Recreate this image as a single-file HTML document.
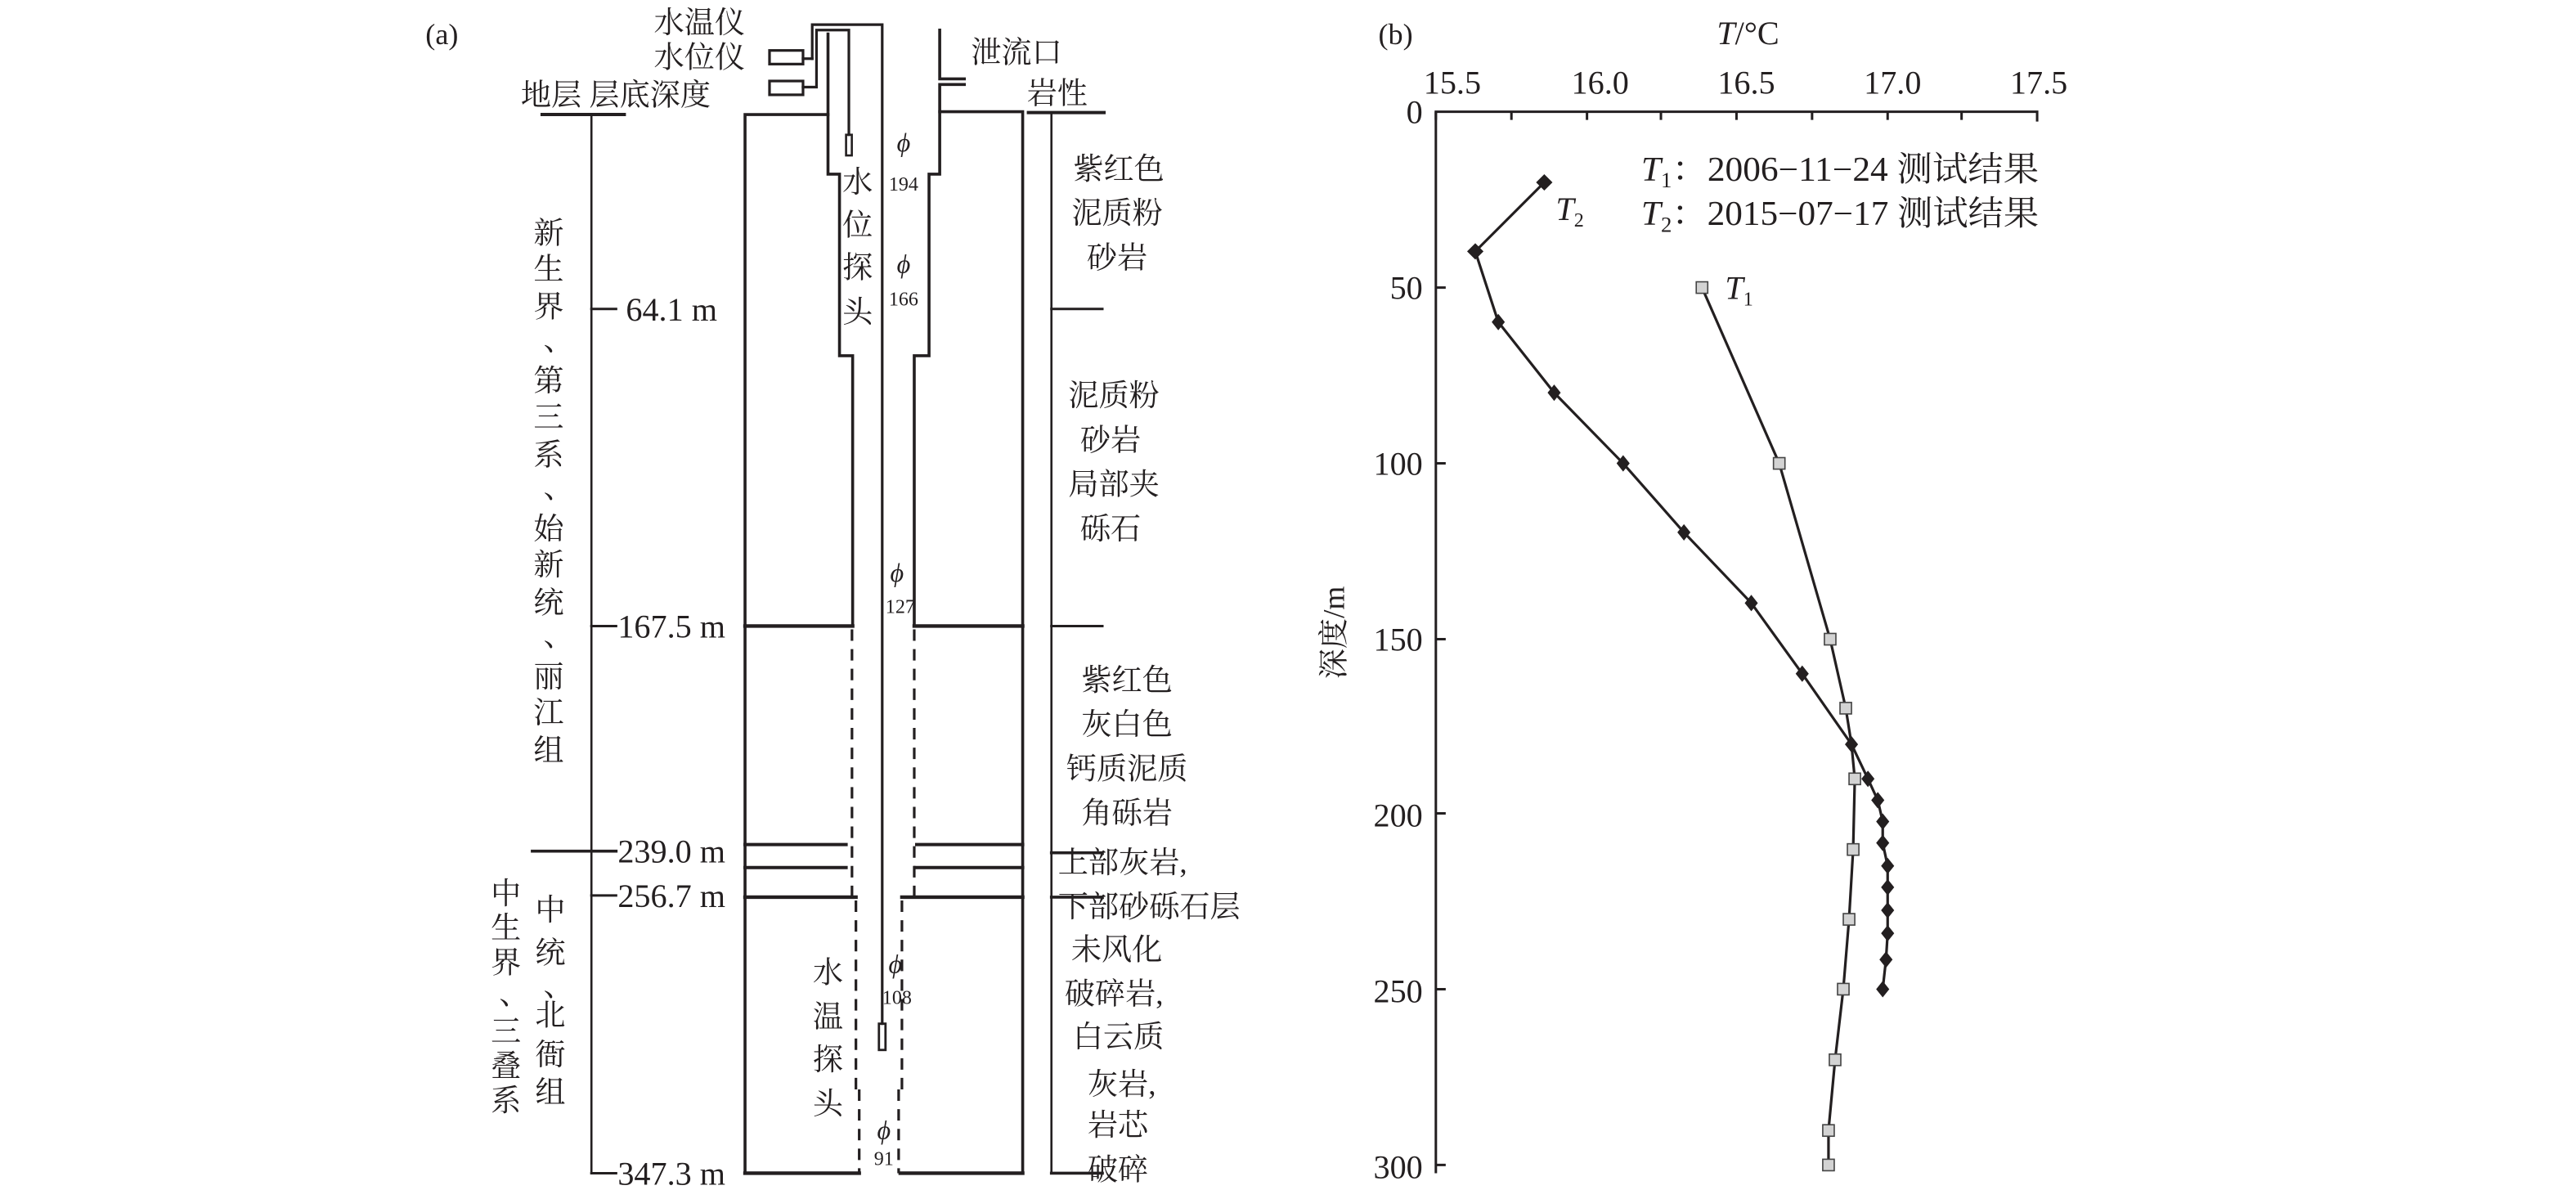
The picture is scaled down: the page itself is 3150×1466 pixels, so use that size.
<!DOCTYPE html>
<html><head><meta charset="utf-8"><style>
html,body{margin:0;padding:0;background:#fff;}
svg{display:block;}
text{font-family:"Liberation Serif","Noto Serif CJK SC",serif;fill:#231f20;}
.c{font-size:18.5px;}
.n{font-size:20px;}
</style></head><body>
<svg width="3150" height="1466" viewBox="0 0 1568 729.7" preserveAspectRatio="none" xmlns="http://www.w3.org/2000/svg">
<g stroke="#231f20" fill="none" stroke-linecap="square">
<line x1="330" y1="69.7" x2="380" y2="69.7" stroke-width="2"/>
<line x1="360" y1="69.7" x2="360" y2="714" stroke-width="1.3"/>
<line x1="360" y1="188" x2="375" y2="188" stroke-width="1.5"/>
<line x1="360" y1="381" x2="375" y2="381" stroke-width="1.5"/>
<line x1="324" y1="518" x2="375" y2="518" stroke-width="1.8"/>
<line x1="360" y1="545" x2="375" y2="545" stroke-width="1.5"/>
<line x1="360" y1="714" x2="375" y2="714" stroke-width="1.5"/>
<line x1="626" y1="68.5" x2="672" y2="68.5" stroke-width="2"/>
<line x1="640" y1="68.5" x2="640" y2="714" stroke-width="1.3"/>
<line x1="640" y1="188" x2="671" y2="188" stroke-width="1.5"/>
<line x1="640" y1="381" x2="671" y2="381" stroke-width="1.5"/>
<line x1="640" y1="519" x2="671" y2="519" stroke-width="1.8"/>
<line x1="640" y1="546" x2="671" y2="546" stroke-width="1.8"/>
<line x1="640" y1="714" x2="671" y2="714" stroke-width="1.8"/>
<polyline points="453.5,714 453.5,69.7 504,69.7" stroke-width="1.8"/>
<polyline points="504,20.7 504,106 511,106 511,216.5 519,216.5 519,381" stroke-width="1.8"/>
<polyline points="572,18.3 572,48 587,48" stroke-width="1.8"/>
<polyline points="587,51.4 572,51.4 572,106 565.5,106 565.5,216.5 556.5,216.5 556.5,381" stroke-width="1.8"/>
<polyline points="572,68 622.5,68 622.5,714" stroke-width="1.8"/>
<line x1="453.5" y1="381" x2="519" y2="381" stroke-width="2.2"/>
<line x1="556.5" y1="381" x2="622.5" y2="381" stroke-width="2.2"/>
<line x1="453.5" y1="514" x2="515" y2="514" stroke-width="2"/>
<line x1="558" y1="514" x2="622.5" y2="514" stroke-width="2"/>
<line x1="453.5" y1="528" x2="515" y2="528" stroke-width="2"/>
<line x1="557" y1="528" x2="622.5" y2="528" stroke-width="2"/>
<line x1="453.5" y1="546" x2="521" y2="546" stroke-width="2.2"/>
<line x1="549" y1="546" x2="622.5" y2="546" stroke-width="2.2"/>
<line x1="453.5" y1="714" x2="523" y2="714" stroke-width="2.2"/>
<line x1="548" y1="714" x2="622.5" y2="714" stroke-width="2.2"/>
<g stroke-dasharray="7,5" stroke-width="1.6" stroke-linecap="butt">
<line x1="518.6" y1="383" x2="518.6" y2="546"/>
<line x1="556.5" y1="383" x2="556.5" y2="546"/>
<line x1="521" y1="548" x2="521" y2="663"/>
<line x1="549" y1="548" x2="549" y2="663"/>
<line x1="523" y1="663" x2="523" y2="714"/>
<line x1="547" y1="663" x2="547" y2="714"/>
</g>
<polyline points="494.4,35.7 494.4,15 537,15 537,623" stroke-width="1.6"/>
<rect x="535" y="623" width="4" height="16" stroke-width="1.4"/>
<polyline points="488.8,53 497,53 497,18.3 516.7,18.3 516.7,82" stroke-width="1.6"/>
<rect x="515" y="82" width="3.5" height="12.6" stroke-width="1.3"/>
<rect x="468.4" y="30.7" width="20.4" height="8.3" stroke-width="1.6"/>
<rect x="468.4" y="49.3" width="20.4" height="8.4" stroke-width="1.6"/>
<line x1="488.8" y1="35.7" x2="494.4" y2="35.7" stroke-width="1.6"/>
</g>
<text x="259" y="27" class="n" style="font-size:18px">(a)</text>
<text x="398" y="20" class="c">水温仪</text>
<text x="398" y="41" class="c">水位仪</text>
<text x="317" y="64" class="c">地层 层底深度</text>
<text x="591" y="38" class="c">泄流口</text>
<text x="625" y="63" class="c">岩性</text>
<g class="n" style="font-size:20px">
<text x="381" y="195">64.1 m</text>
<text x="376" y="388">167.5 m</text>
<text x="376" y="525">239.0 m</text>
<text x="376" y="552">256.7 m</text>
<text x="376" y="721">347.3 m</text>
</g>
<g style="font-size:16px;font-style:italic" text-anchor="middle">
<text x="550" y="92">ϕ</text><text x="550" y="166">ϕ</text>
<text x="546" y="354">ϕ</text><text x="545" y="592">ϕ</text><text x="538" y="693">ϕ</text>
</g>
<g style="font-size:12px" text-anchor="middle">
<text x="550" y="116">194</text><text x="550" y="186">166</text>
<text x="548" y="373">127</text><text x="546" y="611">108</text><text x="538" y="709">91</text>
</g>
<g class="c" text-anchor="middle">
<text x="522" y="117">水</text><text x="522" y="143">位</text><text x="522" y="169">探</text><text x="522" y="196">头</text>
<text x="504" y="598">水</text><text x="504" y="625">温</text><text x="504" y="651">探</text><text x="504" y="678">头</text>
<text x="334" y="148">新</text><text x="334" y="170">生</text><text x="334" y="193">界</text><text x="340" y="213">、</text>
<text x="334" y="238">第</text><text x="334" y="260">三</text><text x="334" y="283">系</text><text x="340" y="303">、</text>
<text x="334" y="328">始</text><text x="334" y="350">新</text><text x="334" y="373">统</text><text x="340" y="393">、</text>
<text x="334" y="418">丽</text><text x="334" y="440">江</text><text x="334" y="463">组</text>
<text x="308" y="550">中</text><text x="308" y="571">生</text><text x="308" y="592">界</text><text x="313" y="611">、</text>
<text x="308" y="634">三</text><text x="308" y="655">叠</text><text x="308" y="676">系</text>
<text x="335" y="560">中</text><text x="335" y="586">统</text><text x="340" y="606">、</text>
<text x="335" y="624">北</text><text x="335" y="648">衙</text><text x="335" y="671">组</text>
<text x="681" y="109">紫红色</text><text x="680" y="136">泥质粉</text><text x="680" y="163">砂岩</text>
<text x="678" y="247">泥质粉</text><text x="676" y="274">砂岩</text><text x="678" y="301">局部夹</text><text x="676" y="328">砾石</text>
<text x="686" y="420">紫红色</text><text x="686" y="447">灰白色</text><text x="686" y="474">钙质泥质</text><text x="686" y="501">角砾岩</text>
</g>
<g class="c">
<text x="644" y="531">上部灰岩,</text><text x="644" y="558">下部砂砾石层</text>
<text x="652" y="584">未风化</text><text x="648" y="611">破碎岩,</text>
<text x="653" y="637">白云质</text><text x="662" y="666">灰岩,</text>
<text x="662" y="691">岩芯</text><text x="662" y="718">破碎</text>
</g>
<text x="839" y="27" class="n" style="font-size:18px">(b)</text>
<text x="1045" y="27" class="n"><tspan font-style="italic">T</tspan>/°C</text>
<g class="n" text-anchor="middle">
<text x="884" y="57">15.5</text><text x="974" y="57">16.0</text><text x="1063" y="57">16.5</text>
<text x="1152" y="57">17.0</text><text x="1241" y="57">17.5</text>
</g>
<g class="n" text-anchor="end">
<text x="866" y="75">0</text><text x="866" y="182">50</text><text x="866" y="289">100</text>
<text x="866" y="396">150</text><text x="866" y="503">200</text><text x="866" y="610">250</text><text x="866" y="717">300</text>
</g>
<text transform="translate(818,385) rotate(-90)" class="c" text-anchor="middle">深度/m</text>
<g stroke="#231f20" stroke-width="1.5" fill="none">
<polyline points="874,73 874,68 1240,68 1240,74"/>
<line x1="874" y1="68" x2="874" y2="714"/>
<path d="M920,68v5M966,68v5M1011,68v5M1057,68v5M1103,68v5M1149,68v5M1194,68v5M874,175h6M874,282h6M874,389h6M874,495h6M874,602h6M874,709h6"/>
</g>
<g class="n" style="font-size:21px">
<text x="999" y="110" textLength="242" lengthAdjust="spacingAndGlyphs"><tspan font-style="italic">T</tspan><tspan font-size="13" dy="4">1</tspan><tspan dy="-4">：2006−11−24 测试结果</tspan></text>
<text x="999" y="137" textLength="242" lengthAdjust="spacingAndGlyphs"><tspan font-style="italic">T</tspan><tspan font-size="13" dy="4">2</tspan><tspan dy="-4">：2015−07−17 测试结果</tspan></text>
</g>
<g class="n">
<text x="947" y="134"><tspan font-style="italic">T</tspan><tspan font-size="12" dy="4">2</tspan></text>
<text x="1050" y="182"><tspan font-style="italic">T</tspan><tspan font-size="12" dy="4">1</tspan></text>
</g>
<polyline fill="none" stroke="#231f20" stroke-width="1.6" points="940,111 898,153 912,196 946,239 988,282 1025,324 1066,367 1097,410 1127,453 1137,474 1143,487 1146,500 1146,513 1149,527 1149,540 1149,554 1149,568 1148,584 1146,602"/>
<polyline fill="none" stroke="#231f20" stroke-width="1.6" points="1036,175 1083,282 1114,389 1123.5,431 1127,453 1129,474 1128,517 1125.5,559.5 1122,602 1117,645 1113,688 1113,709"/>
<g fill="#231f20">
<path d="M940,106l5,5l-5,5l-5,-5zM898,148l5,5l-5,5l-5,-5zM912,191l4,5l-4,5l-4,-5zM946,234l4,5l-4,5l-4,-5zM988,277l4,5l-4,5l-4,-5zM1025,319l4,5l-4,5l-4,-5zM1066,362l4,5l-4,5l-4,-5zM1097,405l4,5l-4,5l-4,-5zM1127,448l4,5l-4,5l-4,-5zM1137,469l4,5l-4,5l-4,-5zM1143,482l4,5l-4,5l-4,-5zM1146,495l4,5l-4,5l-4,-5zM1146,508l4,5l-4,5l-4,-5zM1149,522l4,5l-4,5l-4,-5zM1149,535l4,5l-4,5l-4,-5zM1149,549l4,5l-4,5l-4,-5zM1149,563l4,5l-4,5l-4,-5zM1148,579l4,5l-4,5l-4,-5zM1146,597l4,5l-4,5l-4,-5z"/>
</g>
<g fill="#d3d3d3" stroke="#444" stroke-width="0.8">
<rect x="1032.5" y="171.5" width="7" height="7"/><rect x="1079.5" y="278.5" width="7" height="7"/>
<rect x="1110.5" y="385.5" width="7" height="7"/><rect x="1120" y="427.5" width="7" height="7"/>
<rect x="1125.5" y="470.5" width="7" height="7"/><rect x="1124.5" y="513.5" width="7" height="7"/>
<rect x="1122" y="556" width="7" height="7"/><rect x="1118.5" y="598.5" width="7" height="7"/>
<rect x="1113.5" y="641.5" width="7" height="7"/><rect x="1109.5" y="684.5" width="7" height="7"/>
<rect x="1109.5" y="705.5" width="7" height="7"/>
</g>
</svg>
</body></html>
